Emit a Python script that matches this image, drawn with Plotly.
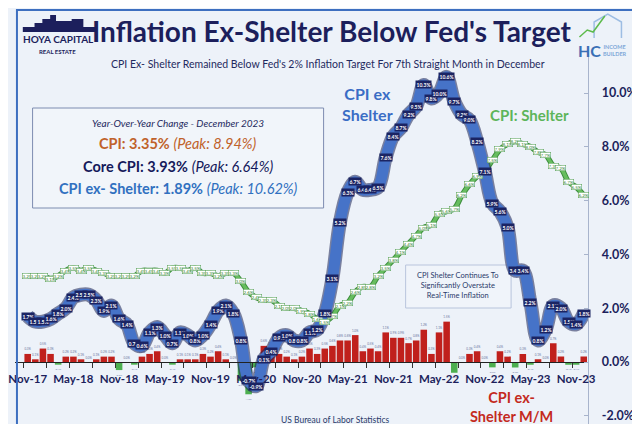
import plotly.graph_objects as go

# ---------------- data ----------------
months = ["Nov-17","Dec-17","Jan-18","Feb-18","Mar-18","Apr-18","May-18","Jun-18","Jul-18","Aug-18","Sep-18","Oct-18",
          "Nov-18","Dec-18","Jan-19","Feb-19","Mar-19","Apr-19","May-19","Jun-19","Jul-19","Aug-19","Sep-19","Oct-19",
          "Nov-19","Dec-19","Jan-20","Feb-20","Mar-20","Apr-20","May-20","Jun-20","Jul-20","Aug-20","Sep-20","Oct-20",
          "Nov-20","Dec-20","Jan-21","Feb-21","Mar-21","Apr-21","May-21","Jun-21","Jul-21","Aug-21","Sep-21","Oct-21",
          "Nov-21","Dec-21","Jan-22","Feb-22","Mar-22","Apr-22","May-22","Jun-22","Jul-22","Aug-22","Sep-22","Oct-22",
          "Nov-22","Dec-22","Jan-23","Feb-23","Mar-23","Apr-23","May-23","Jun-23","Jul-23","Aug-23","Sep-23","Oct-23",
          "Nov-23","Dec-23"]

cpi_ex_shelter_yoy = [1.7, 1.5, 1.5, 1.6, 1.8, 2.0, 2.4, 2.5, 2.5, 2.3, 1.9, 2.1,
                      1.6, 1.4, 0.7, 0.6, 1.1, 1.3, 1.0, 0.7, 1.1, 1.0, 0.8, 1.0,
                      1.4, 1.9, 2.1, 1.8, 0.8, -0.7, -0.9, 0.1, 0.4, 0.9, 1.0, 0.8,
                      0.8, 1.1, 1.2, 1.8, 3.1, 5.2, 6.3, 6.7, 6.4, 6.4, 6.5, 7.6,
                      8.4, 8.7, 9.2, 9.5, 10.3, 9.8, 10.0, 10.6, 9.7, 9.2, 9.0, 8.2,
                      7.1, 5.9, 5.6, 5.0, 3.4, 3.4, 2.2, 0.8, 1.2, 2.1, 2.0, 1.5,
                      1.4, 1.8]

cpi_shelter_yoy = [3.2, 3.2, 3.2, 3.1, 3.2, 3.4, 3.5, 3.4, 3.5, 3.4, 3.3, 3.2,
                   3.2, 3.2, 3.2, 3.4, 3.4, 3.4, 3.3, 3.5, 3.5, 3.4, 3.5, 3.3,
                   3.3, 3.2, 3.3, 3.3, 3.0, 2.6, 2.4, 2.3, 2.3, 2.1, 2.0, 2.0,
                   1.9, 1.8, 1.6, 1.5, 1.7, 2.1, 2.2, 2.6, 2.8, 2.8, 3.2, 3.5,
                   3.8, 4.1, 4.4, 4.7, 5.0, 5.1, 5.5, 5.6, 5.7, 6.2, 6.6, 6.9,
                   7.1, 7.5, 7.9, 8.1, 8.2, 8.1, 8.0, 7.8, 7.7, 7.3, 7.2, 6.7,
                   6.5, 6.2]

cpi_ex_shelter_mm = [0.3, 0.1, 0.5, 0.3, -0.1, 0.2, 0.2, 0.1, 0.0, 0.1, 0.2, 0.2,
                     -0.3, 0.0, -0.1, 0.2, 0.3, 0.4, 0.0, -0.1, 0.1, 0.1, 0.1, 0.3,
                     0.2, 0.4, 0.1, 0.0, -0.7, -1.2, -0.2, 0.6, 0.5, 0.3, 0.2, 0.1,
                     0.2, 0.5, 0.3, 0.5, 0.6, 0.8, 0.8, 1.0, 0.4, 0.5, 0.4, 1.1,
                     0.9, 0.9, 0.7, 0.8, 1.2, 0.3, 1.1, 1.5, -0.4, 0.0, 0.3, 0.4,
                     0.0, -0.2, 0.4, 0.2, -0.2, 0.3, -0.1, 0.1, 0.0, 0.7, 0.2, -0.1,
                     -0.1, 0.2]

tick_labels = ["Nov-17","May-18","Nov-18","May-19","Nov-19","May-20","Nov-20",
               "May-21","Nov-21","May-22","Nov-22","May-23","Nov-23"]
y_ticks = [-2, 0, 2, 4, 6, 8, 10]

# ---------------- helpers ----------------
W, H = 640, 424
def PX(x):
    return x / W
def PY(y):
    return 1 - y / H

FONT = "Lato, Roboto, Liberation Sans, sans-serif"
NAVY = "#1C1F5C"
idx = list(range(len(months)))
tick_idx = [months.index(t) for t in tick_labels]

fig = go.Figure()

# M/M bars
bar_colors = ["#C0201C" if v >= 0 else "#4CAF50" for v in cpi_ex_shelter_mm]
fig.add_trace(go.Bar(
    x=idx, y=cpi_ex_shelter_mm, marker_color=bar_colors, marker_line_width=0,
    width=0.86, text=[f"{v:.1f}%" for v in cpi_ex_shelter_mm], textposition="outside",
    textfont=dict(size=6, color="#6874A0", family=FONT), cliponaxis=False,
    hoverinfo="skip"))

# shelter line
fig.add_trace(go.Scatter(x=idx, y=cpi_shelter_yoy, mode="lines",
                         line=dict(color="#3E8E3E", width=5.5, shape="spline"), hoverinfo="skip"))
fig.add_trace(go.Scatter(x=idx, y=cpi_shelter_yoy, mode="lines",
                         line=dict(color="#66BD5E", width=3.5, shape="spline"), hoverinfo="skip"))

# ex-shelter line (shadow + main)
fig.add_trace(go.Scatter(x=idx, y=cpi_ex_shelter_yoy, mode="lines",
                         line=dict(color="rgba(25,35,85,0.55)", width=14, shape="spline"), hoverinfo="skip"))
fig.add_trace(go.Scatter(x=idx, y=cpi_ex_shelter_yoy, mode="lines",
                         line=dict(color="#4673C8", width=11, shape="spline"), hoverinfo="skip"))

annotations = []
for m, v in zip(idx, cpi_shelter_yoy):
    annotations.append(dict(x=m, y=v, xref="x", yref="y", text=f"{v:.1f}%", showarrow=False,
                            font=dict(size=4.5, color="#2E7D32", family=FONT),
                            bgcolor="white", bordercolor="#4A9A4A", borderwidth=0.5, borderpad=0))
for m, v in zip(idx, cpi_ex_shelter_yoy):
    annotations.append(dict(x=m, y=v, xref="x", yref="y", text=f"<b>{v:.1f}%</b>", showarrow=False,
                            font=dict(size=5, color="white", family=FONT),
                            bgcolor="#1B2463", borderpad=0.5))

def txt(x, y, text, size, color, **kw):
    d = dict(x=PX(x), y=PY(y), xref="paper", yref="paper", text=text, showarrow=False,
             font=dict(size=size, color=color, family=FONT), xanchor="center", yanchor="middle")
    d.update(kw)
    annotations.append(d)

# header
txt(324, 23, "<b>Inflation Ex-Shelter Below Fed's Target</b>", 28, NAVY)
txt(320, 56, "CPI Ex- Shelter Remained Below Fed's 2% Inflation Target For 7th Straight Month in December", 10.5, "#1F2A5E")
txt(45, 31, "<b>HOYA CAPITAL</b>", 10, NAVY)
txt(44, 44, "<b>REAL ESTATE</b>", 6, NAVY)
txt(588, 43, "<b>HC</b>", 16, "#3A6FB5")
txt(614, 42, "<b>INCOME<br>BUILDER</b>", 5.5, "#7FA8D8")

# info box
txt(167, 115, "<i>Year-Over-Year Change - December 2023</i>", 10, "#1F2A5E")
txt(167, 135, "<b>CPI: 3.35%</b> <i>(Peak: 8.94%)</i>", 14.5, "#C0622A")
txt(167, 158, "<b>Core CPI: 3.93%</b> <i>(Peak: 6.64%)</i>", 14.5, "#15195A")
txt(167, 180, "<b>CPI ex- Shelter: 1.89%</b> <i>(Peak: 10.62%)</i>", 14.5, "#3070C0")

# series labels
txt(361, 96, "<b>CPI ex<br>Shelter</b>", 16, "#3A6DC5")
txt(527, 107, "<b>CPI: Shelter</b>", 15, "#5DB55A")
txt(508, 399, "<b>CPI ex-<br>Shelter M/M</b>", 14.5, "#C42A1E")
txt(454, 277, "CPI Shelter Continues To<br>Significantly Overstate<br>Real-Time Inflation", 7.5, "#2A3A6A")
txt(328, 412, "US Bureau of Labor Statistics", 8.5, "#2A3A6A")

shapes = [
    dict(type="rect", xref="paper", yref="paper", x0=PX(2), x1=PX(638), y0=PY(422), y1=PY(2),
         line=dict(color="#3D6FC0", width=2)),
    dict(type="rect", xref="paper", yref="paper", x0=PX(18), x1=PX(316), y0=PY(200), y1=PY(100),
         line=dict(color="#7D8CB0", width=1), fillcolor="rgba(255,255,255,0.25)", layer="below"),
    dict(type="rect", xref="paper", yref="paper", x0=PX(400), x1=PX(508), y0=PY(300), y1=PY(257),
         line=dict(color="#B8C4DC", width=1), fillcolor="rgba(255,255,255,0.2)", layer="below"),
    # skyline logo
    dict(type="path", xref="paper", yref="paper", fillcolor=NAVY, line=dict(width=0),
         path="M {0} {1} L {0} {2} L {3} {2} L {3} {4} L {5} {4} L {5} {6} L {7} {6} L {7} {8} L {9} {8} "
              "L {9} {10} L {11} {10} L {11} {12} L {13} {12} L {13} {2} L {14} {2} L {14} {1} Z".format(
              PX(8), PY(24), PY(19), PX(20), PY(15), PX(28), PY(11), PX(36), PY(7), PX(42), PY(13),
              PX(58), PY(11), PX(70), PX(82))),
    # HC logo house / arrow
    dict(type="path", xref="paper", yref="paper", line=dict(color="#9DBDE3", width=1.5),
         path=f"M {PX(593)} {PY(30)} L {PX(593)} {PY(14)} L {PX(607)} {PY(6)} L {PX(621)} {PY(14)} L {PX(621)} {PY(30)}"),
    dict(type="path", xref="paper", yref="paper", line=dict(color="#5DBB4C", width=1.5),
         path=f"M {PX(578)} {PY(29)} L {PX(586)} {PY(22)} L {PX(592)} {PY(24)} L {PX(604)} {PY(8)}"),
]

fig.update_layout(
    width=W, height=H, margin=dict(l=0, r=0, t=0, b=0),
    paper_bgcolor="#EDF2F9", plot_bgcolor="rgba(0,0,0,0)",
    showlegend=False, bargap=0.1, annotations=annotations, shapes=shapes,
    font=dict(family=FONT),
    xaxis=dict(domain=[0, PX(587)], range=[-1.667, 73.59], anchor="free", position=PY(354),
               tickmode="array", tickvals=tick_idx, ticktext=tick_labels, tickangle=0,
               ticklabeloverflow="allow",
               showline=True, linecolor="#222222", linewidth=1, showgrid=False, zeroline=False,
               ticks="outside", ticklen=0, tickcolor="rgba(0,0,0,0)", ticklabelstandoff=6,
               tickfont=dict(size=11.5, color=NAVY, family="Lato, Roboto, sans-serif", weight="bold"),
               minor=dict(ticks="outside", ticklen=5, tickcolor="#333333", tickmode="linear",
                          tick0=-0.5, dtick=3, showgrid=False)),
    yaxis=dict(domain=[PY(418), PY(45)], range=[-2.379, 11.487], anchor="x", side="right",
               tickvals=y_ticks, ticktext=[f"{t:.1f}%" for t in y_ticks],
               showline=True, linecolor="#A8B4CC", linewidth=1, showgrid=False, zeroline=False,
               ticks="inside", ticklen=4, tickcolor="#A8B4CC", ticklabelstandoff=10,
               tickfont=dict(size=12.5, color=NAVY, family=FONT, weight="bold")),
)

fig.write_html("out.html")
